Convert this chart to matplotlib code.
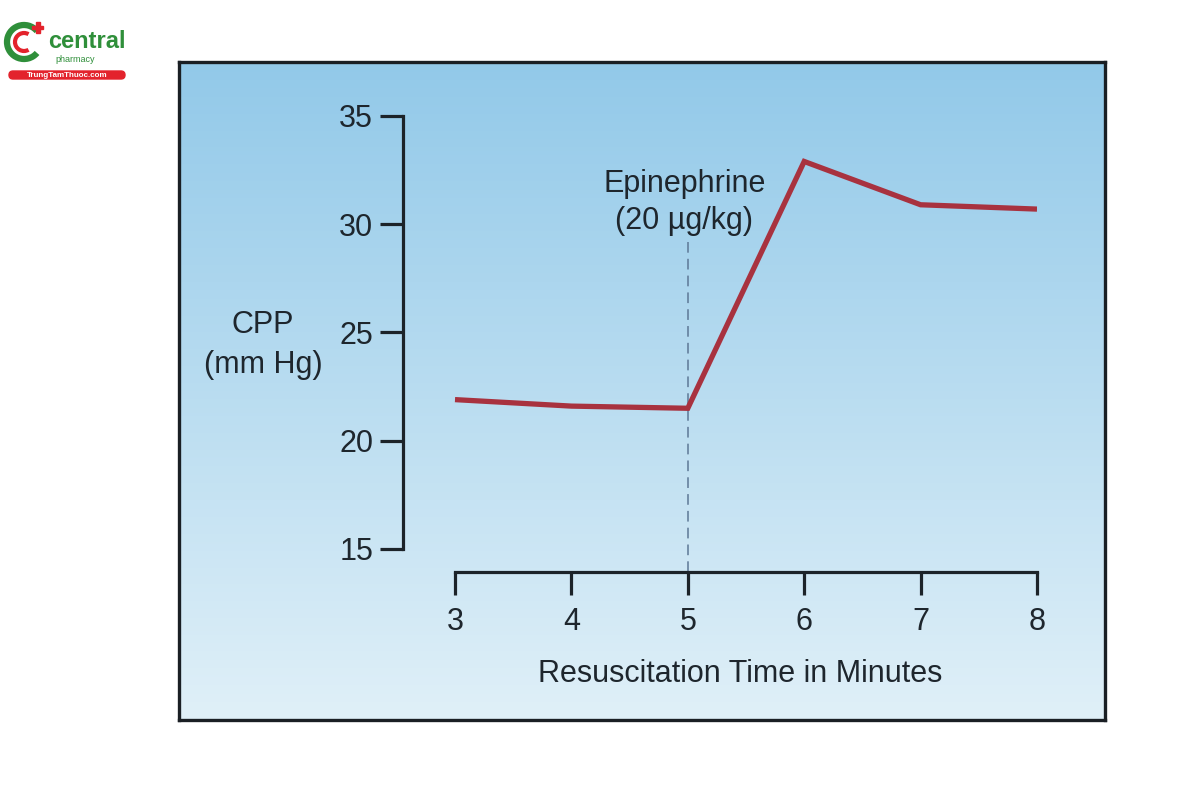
import numpy as np
import matplotlib
matplotlib.use("Agg")
import matplotlib.pyplot as plt
from matplotlib.patches import FancyBboxPatch, Arc, Rectangle

# ---- data ----
minutes = [3, 4, 5, 6, 7, 8]
cpp = [21.9, 21.6, 21.5, 32.9, 30.9, 30.7]
x_ticks = [3, 4, 5, 6, 7, 8]
y_ticks = [15, 20, 25, 30, 35]
epi_time = 5
epi_label = "Epinephrine\n(20 \u00b5g/kg)"
x_label = "Resuscitation Time in Minutes"
y_label = "CPP\n(mm Hg)"

plt.rcParams['font.family'] = ['Liberation Sans', 'DejaVu Sans']
W, H = 1200, 800
fig = plt.figure(figsize=(12, 8), dpi=100)
fig.patch.set_facecolor('white')

def fx(px):
    return px / W

def fy(py):
    return 1 - py / H

FS = 22
TXT = '#1e262d'

# ---- background panel with gradient ----
bx0, bx1, by0, by1 = 179, 1105, 62, 720
bg = fig.add_axes([fx(bx0), fy(by1), fx(bx1 - bx0), (by1 - by0) / H])
top = np.array([146, 201, 233]) / 255
bot = np.array([224, 240, 248]) / 255
t = np.linspace(0, 1, 256)[:, None]
grad = (top[None, :] * (1 - t) + bot[None, :] * t)[:, None, :]
grad = np.repeat(grad, 2, axis=1)
bg.imshow(grad, aspect='auto', extent=[0, 1, 0, 1], origin='upper')
bg.set_xlim(0, 1)
bg.set_ylim(0, 1)
bg.set_xticks([])
bg.set_yticks([])
for s in bg.spines.values():
    s.set_linewidth(2.4)
    s.set_color('#1a1f24')

# ---- main data axes ----
xl, xr = 403, 1037
yt, yb = 116, 572
x3, x8 = 455, 1037
ppx = (x8 - x3) / 5.0
ppy = (549 - 116) / 20.0
xmin = 3 - (x3 - xl) / ppx
ymin = 35 - (yb - yt) / ppy
ax = fig.add_axes([fx(xl), fy(yb), fx(xr - xl), (yb - yt) / H])
ax.patch.set_alpha(0)
ax.set_xlim(xmin, 8)
ax.set_ylim(ymin, 35)
for side in ['top', 'right']:
    ax.spines[side].set_visible(False)
ax.spines['left'].set_bounds(15, 35)
ax.spines['bottom'].set_bounds(3, 8)
for side in ['left', 'bottom']:
    ax.spines[side].set_linewidth(2.3)
    ax.spines[side].set_color('#1c2329')
    ax.spines[side].set_capstyle('projecting')
ax.set_xticks(x_ticks)
ax.set_yticks(y_ticks)
ax.tick_params(axis='both', direction='out', length=16.5, width=2.3,
               color='#1c2329', labelsize=FS, labelcolor=TXT)
ax.tick_params(axis='y', pad=5)
ax.tick_params(axis='x', pad=9)

ax.plot(minutes, cpp, color='#a8323f', lw=3.8, solid_joinstyle='miter',
        solid_capstyle='butt', zorder=3)
ax.plot([epi_time, epi_time], [ymin, 29.2], color='#5d7896', lw=1.1,
        ls=(0, (7, 4)), zorder=2)

ax.text(epi_time - 0.03, 31.0, epi_label, ha='center', va='center',
        fontsize=FS, color=TXT, linespacing=1.32)

fig.text(fx(740), fy(674), x_label, ha='center', va='center',
         fontsize=FS, color=TXT)
fig.text(fx(263), fy(345), y_label, ha='center', va='center',
         fontsize=FS, color=TXT, linespacing=1.4)

# ---- logo ----
green = '#2f8f3a'
red = '#e3232c'
lg = fig.add_axes([0, fy(85), fx(140), 85 / H])
lg.set_xlim(0, 140)
lg.set_ylim(85, 0)
lg.axis('off')
lg.add_patch(Arc((24, 42), 34, 34, theta1=40, theta2=320, color=green, lw=4.5))
lg.add_patch(Arc((24, 42), 18, 18, theta1=60, theta2=300, color=red, lw=3))
lg.add_patch(Rectangle((36, 22), 3.5, 11, color=red))
lg.add_patch(Rectangle((32.2, 25.8), 11, 3.5, color=red))
lg.text(48, 42, "central", color=green, fontsize=17, fontweight='bold',
        va='center', ha='left')
lg.text(55, 59, "pharmacy", color=green, fontsize=6.5, va='center', ha='left')
lg.add_patch(FancyBboxPatch((9, 71), 116, 8,
                            boxstyle="round,pad=0,rounding_size=4",
                            color=red))
lg.text(67, 75.3, "TrungTamThuoc.com", color='white', fontsize=5.8,
        fontweight='bold', ha='center', va='center')

fig.savefig('out.png', dpi=100)
